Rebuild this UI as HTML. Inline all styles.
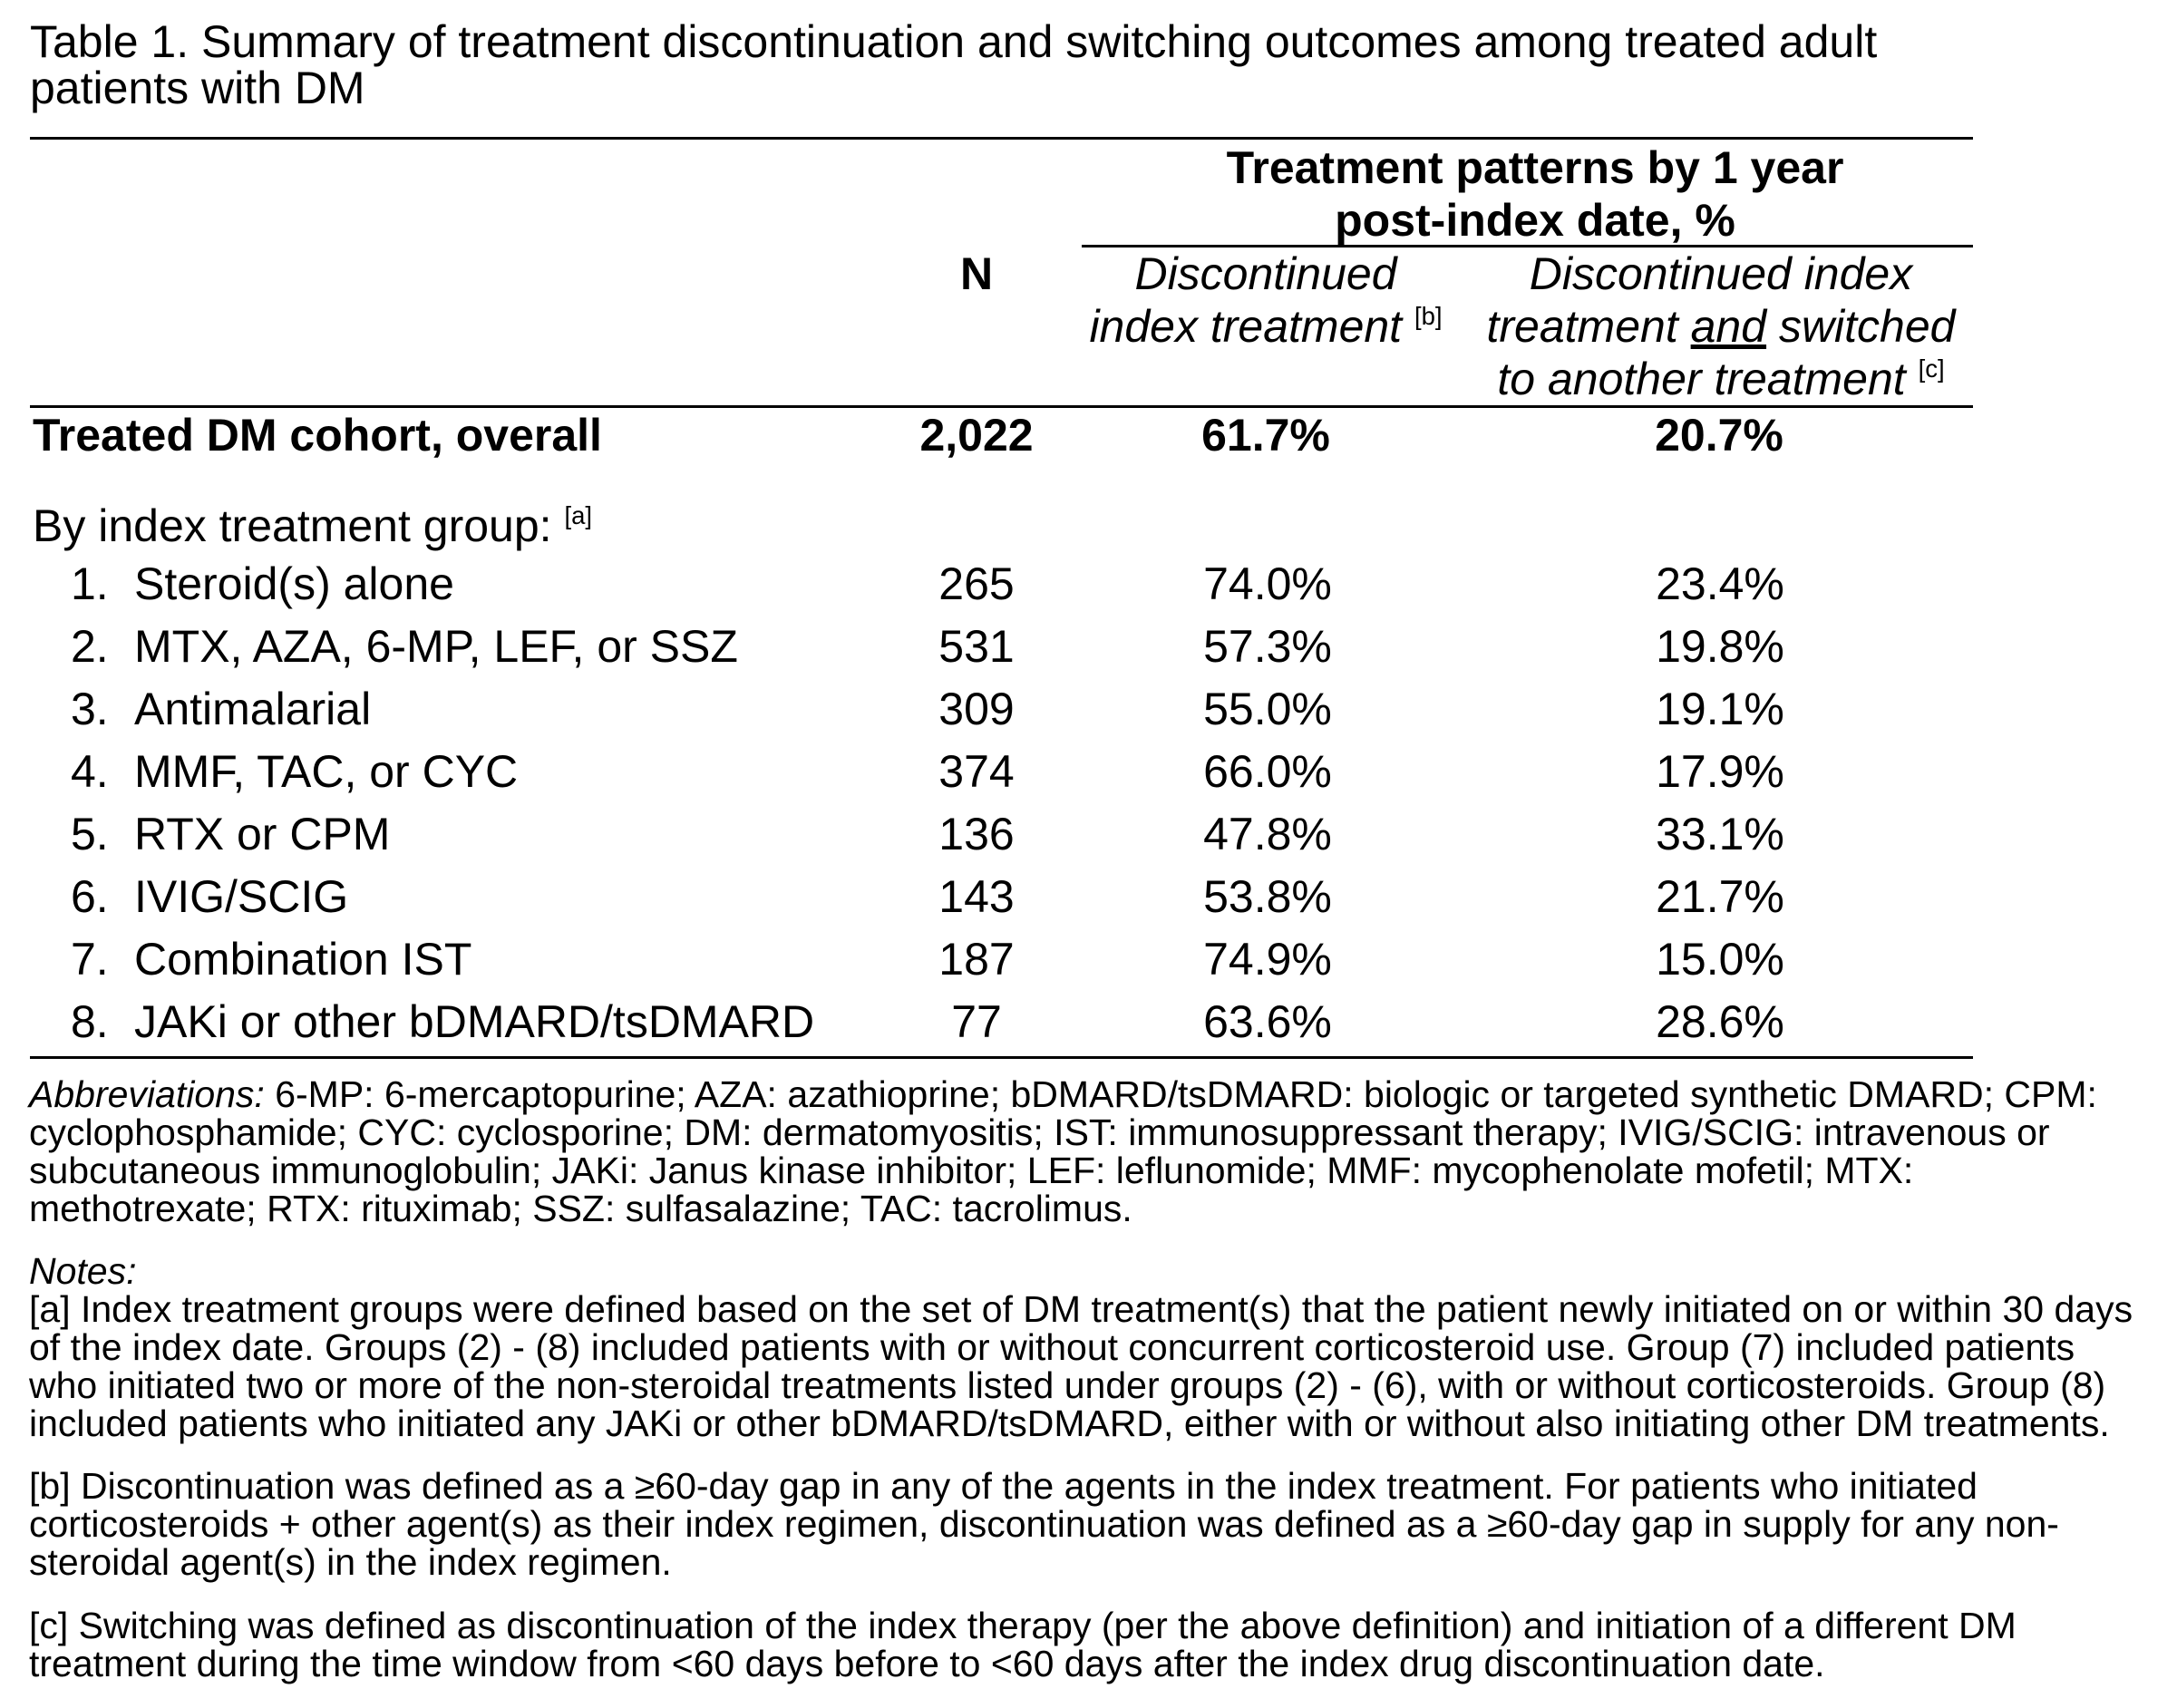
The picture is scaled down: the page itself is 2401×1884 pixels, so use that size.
<!DOCTYPE html>
<html><head><meta charset="utf-8"><style>
html,body{margin:0;padding:0;background:#fff}
body{width:2401px;height:1884px;position:relative;overflow:hidden;font-family:"Liberation Sans",Arial,sans-serif;color:#000}
.a{position:absolute;white-space:nowrap}
.r{position:absolute;background:#000;height:3px}
.c{text-align:center;transform:translateX(-50%)}
sup{font-size:0.55em;vertical-align:0;position:relative;top:-0.7em;font-style:normal}
.t{font-size:50px;line-height:69px}
.n{font-size:41px;line-height:42px}
</style></head><body>
<div class="a" style="left:33px;top:21px;font-size:50px;line-height:51px">Table 1. Summary of treatment discontinuation and switching outcomes among treated adult<br>patients with DM</div>
<div class="r" style="left:33px;top:151px;width:2143px"></div>
<div class="a c" style="left:1693px;top:156px;font-size:50px;line-height:58px;font-weight:bold">Treatment patterns by 1 year<br>post-index date, %</div>
<div class="r" style="left:1193px;top:270px;width:983px"></div>
<div class="a c" style="left:1077px;top:273px;font-size:50px;line-height:58px;font-weight:bold">N</div>
<div class="a c" style="left:1396px;top:273px;font-size:50px;line-height:58px;font-style:italic">Discontinued<br>index treatment <sup>[b]</sup></div>
<div class="a c" style="left:1898px;top:273px;font-size:50px;line-height:58px;font-style:italic">Discontinued index<br>treatment <u>and</u> switched<br>to another treatment <sup>[c]</sup></div>
<div class="r" style="left:33px;top:447px;width:2143px"></div>
<div class="a t" style="left:36px;top:446px;font-weight:bold">Treated DM cohort, overall</div>
<div class="a t c" style="left:1077px;top:446px;font-weight:bold">2,022</div>
<div class="a t c" style="left:1396px;top:446px;font-weight:bold">61.7%</div>
<div class="a t c" style="left:1896px;top:446px;font-weight:bold">20.7%</div>
<div class="a t" style="left:36px;top:546px">By index treatment group: <sup>[a]</sup></div>

<div class="a t" style="left:78px;top:610px">1.</div><div class="a t" style="left:148px;top:610px">Steroid(s) alone</div><div class="a t c" style="left:1077px;top:610px">265</div><div class="a t c" style="left:1398px;top:610px">74.0%</div><div class="a t c" style="left:1897px;top:610px">23.4%</div>
<div class="a t" style="left:78px;top:679px">2.</div><div class="a t" style="left:148px;top:679px">MTX, AZA, 6-MP, LEF, or SSZ</div><div class="a t c" style="left:1077px;top:679px">531</div><div class="a t c" style="left:1398px;top:679px">57.3%</div><div class="a t c" style="left:1897px;top:679px">19.8%</div>
<div class="a t" style="left:78px;top:748px">3.</div><div class="a t" style="left:148px;top:748px">Antimalarial</div><div class="a t c" style="left:1077px;top:748px">309</div><div class="a t c" style="left:1398px;top:748px">55.0%</div><div class="a t c" style="left:1897px;top:748px">19.1%</div>
<div class="a t" style="left:78px;top:817px">4.</div><div class="a t" style="left:148px;top:817px">MMF, TAC, or CYC</div><div class="a t c" style="left:1077px;top:817px">374</div><div class="a t c" style="left:1398px;top:817px">66.0%</div><div class="a t c" style="left:1897px;top:817px">17.9%</div>
<div class="a t" style="left:78px;top:886px">5.</div><div class="a t" style="left:148px;top:886px">RTX or CPM</div><div class="a t c" style="left:1077px;top:886px">136</div><div class="a t c" style="left:1398px;top:886px">47.8%</div><div class="a t c" style="left:1897px;top:886px">33.1%</div>
<div class="a t" style="left:78px;top:955px">6.</div><div class="a t" style="left:148px;top:955px">IVIG/SCIG</div><div class="a t c" style="left:1077px;top:955px">143</div><div class="a t c" style="left:1398px;top:955px">53.8%</div><div class="a t c" style="left:1897px;top:955px">21.7%</div>
<div class="a t" style="left:78px;top:1024px">7.</div><div class="a t" style="left:148px;top:1024px">Combination IST</div><div class="a t c" style="left:1077px;top:1024px">187</div><div class="a t c" style="left:1398px;top:1024px">74.9%</div><div class="a t c" style="left:1897px;top:1024px">15.0%</div>
<div class="a t" style="left:78px;top:1093px">8.</div><div class="a t" style="left:148px;top:1093px">JAKi or other bDMARD/tsDMARD</div><div class="a t c" style="left:1077px;top:1093px">77</div><div class="a t c" style="left:1398px;top:1093px">63.6%</div><div class="a t c" style="left:1897px;top:1093px">28.6%</div>
<div class="r" style="left:33px;top:1165px;width:2143px"></div>

<div class="a n" style="left:32px;top:1186px"><i>Abbreviations:</i> 6-MP: 6-mercaptopurine; AZA: azathioprine; bDMARD/tsDMARD: biologic or targeted synthetic DMARD; CPM:<br>cyclophosphamide; CYC: cyclosporine; DM: dermatomyositis; IST: immunosuppressant therapy; IVIG/SCIG: intravenous or<br>subcutaneous immunoglobulin; JAKi: Janus kinase inhibitor; LEF: leflunomide; MMF: mycophenolate mofetil; MTX:<br>methotrexate; RTX: rituximab; SSZ: sulfasalazine; TAC: tacrolimus.</div>
<div class="a n" style="left:32px;top:1381px"><i>Notes:</i><br>[a] Index treatment groups were defined based on the set of DM treatment(s) that the patient newly initiated on or within 30 days<br>of the index date. Groups (2) - (8) included patients with or without concurrent corticosteroid use. Group (7) included patients<br>who initiated two or more of the non-steroidal treatments listed under groups (2) - (6), with or without corticosteroids. Group (8)<br>included patients who initiated any JAKi or other bDMARD/tsDMARD, either with or without also initiating other DM treatments.</div>
<div class="a n" style="left:32px;top:1618px">[b] Discontinuation was defined as a ≥60-day gap in any of the agents in the index treatment. For patients who initiated<br>corticosteroids + other agent(s) as their index regimen, discontinuation was defined as a ≥60-day gap in supply for any non-<br>steroidal agent(s) in the index regimen.</div>
<div class="a n" style="left:32px;top:1772px">[c] Switching was defined as discontinuation of the index therapy (per the above definition) and initiation of a different DM<br>treatment during the time window from &lt;60 days before to &lt;60 days after the index drug discontinuation date.</div>
</body></html>
